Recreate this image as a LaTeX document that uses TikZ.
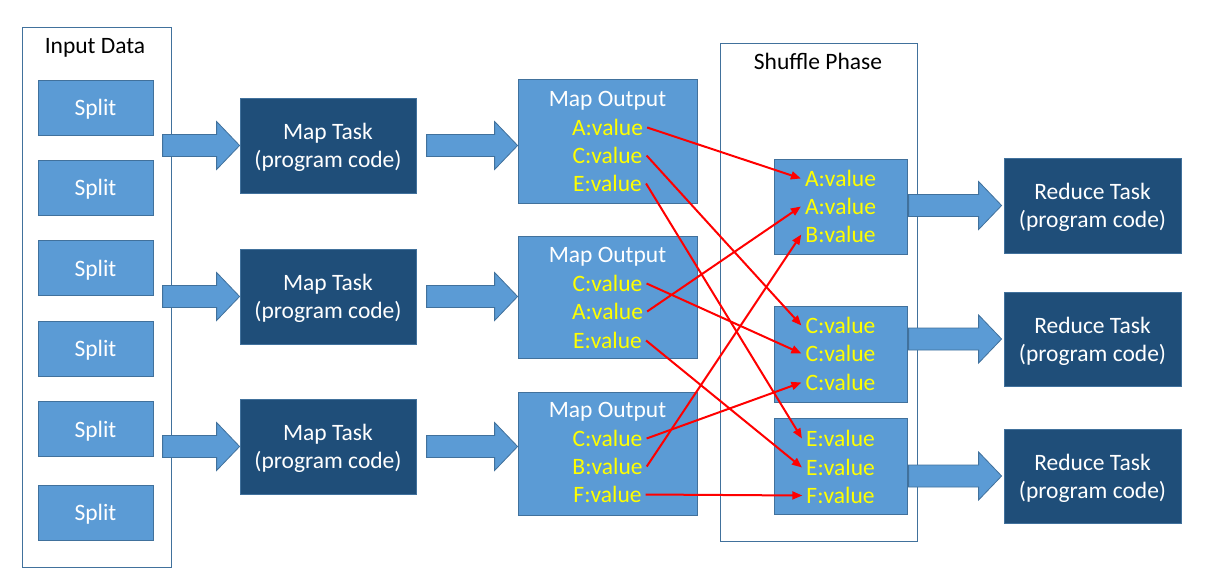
\documentclass[tikz,border=0pt]{standalone}
\usepackage{fontspec}
\setmainfont{Carlito}
\usetikzlibrary{calc,arrows.meta}
\definecolor{lb}{HTML}{5B9BD5}
\definecolor{lbd}{HTML}{41719C}
\definecolor{db}{HTML}{1F4E79}
\definecolor{ye}{HTML}{FFFF00}
\definecolor{rd}{HTML}{FF0000}
\newcommand\blockarr[2]{%
  \draw[barrow] ($(#1)+(-#2,-11)$) -- ($(#1)+(-23,-11)$) -- ($(#1)+(-23,-24)$) -- (#1)
    -- ($(#1)+(-23,24)$) -- ($(#1)+(-23,11)$) -- ($(#1)+(-#2,11)$) -- cycle;}
\begin{document}
\begin{tikzpicture}[x=1pt,y=-1pt,
  font=\fontsize{23.5}{28}\selectfont,
  container/.style={draw=lbd, line width=0.8pt, inner sep=0},
  ttl/.style={anchor=base, inner sep=0, text=black},
  splitbox/.style={draw=lbd, fill=lb, text=white, minimum width=115, minimum height=55, inner sep=0, line width=0.8pt, text depth=0pt},
  taskbox/.style={draw=lbd, fill=db, text=white, align=center, inner sep=0, line width=0.8pt, text depth=0pt},
  outbox/.style={draw=lbd, fill=lb, inner sep=0, line width=0.8pt},
  outtitle/.style={anchor=base, inner sep=0, text=white},
  val/.style={anchor=base, text=ye, inner xsep=4pt, inner ysep=0pt, text height=15pt, text depth=0pt},
  barrow/.style={draw=lbd, fill=lb, line width=0.8pt, line join=miter},
  redarrow/.style={draw=rd, line width=2pt, -{Triangle[length=10pt,width=8pt]}}
]
\fill[white] (0,0) rectangle (1210,584);
\useasboundingbox (0,0) rectangle (1210,584);

% Input data
\node[container, minimum width=149, minimum height=540] (inbox) at (96.5,297) {};
\node[ttl] (intitle) at (95,53) {Input Data};
\node[splitbox] (s1) at (95.5,107.5) {Split};
\node[splitbox] (s2) at (95.5,187.5) {Split};
\node[splitbox] (s3) at (95.5,268) {Split};
\node[splitbox] (s4) at (95.5,348.5) {Split};
\node[splitbox] (s5) at (95.5,429) {Split};
\node[splitbox] (s6) at (95.5,512.5) {Split};

% Map tasks
\node[taskbox, minimum width=176, minimum height=95] (mt1) at (328,145.5) {Map Task\\(program code)};
\node[taskbox, minimum width=176, minimum height=95] (mt2) at (328,296.5) {Map Task\\(program code)};
\node[taskbox, minimum width=176, minimum height=95] (mt3) at (328,446.5) {Map Task\\(program code)};

% Map outputs
\node[outbox, minimum width=179, minimum height=124] (mo1) at (607.5,141) {};
\node[outbox, minimum width=179, minimum height=122] (mo2) at (607.5,297) {};
\node[outbox, minimum width=179, minimum height=123] (mo3) at (607.5,453.5) {};
\node[outtitle] (mo1t) at (607.5,106) {Map Output};
\node[outtitle] (mo2t) at (607.5,262) {Map Output};
\node[outtitle] (mo3t) at (607.5,417) {Map Output};
\node[val] (mo1a) at (607.5,135) {A:value};
\node[val] (mo1c) at (607.5,163) {C:value};
\node[val] (mo1e) at (607.5,191) {E:value};
\node[val] (mo2c) at (607.5,291) {C:value};
\node[val] (mo2a) at (607.5,319) {A:value};
\node[val] (mo2e) at (607.5,348) {E:value};
\node[val] (mo3c) at (607.5,446) {C:value};
\node[val] (mo3b) at (607.5,474) {B:value};
\node[val] (mo3f) at (607.5,502) {F:value};

% Shuffle phase
\node[container, minimum width=197, minimum height=498] (shbox) at (818.5,292) {};
\node[ttl] (shtitle) at (818,69) {Shuffle Phase};
\node[outbox, minimum width=133, minimum height=95] (sb1) at (840.5,206.5) {};
\node[outbox, minimum width=133, minimum height=96] (sb2) at (840.5,354) {};
\node[outbox, minimum width=133, minimum height=96] (sb3) at (840.5,466.5) {};
\node[val] (s1a1) at (840.5,186) {A:value};
\node[val] (s1a2) at (840.5,214) {A:value};
\node[val] (s1b) at (840.5,242) {B:value};
\node[val] (s2c1) at (840.5,333) {C:value};
\node[val] (s2c2) at (840.5,361) {C:value};
\node[val] (s2c3) at (840.5,390) {C:value};
\node[val] (s3e1) at (840.5,446) {E:value};
\node[val] (s3e2) at (840.5,475) {E:value};
\node[val] (s3f) at (840.5,503) {F:value};

% Reduce tasks
\node[taskbox, minimum width=177, minimum height=95] (rt1) at (1092.5,205.5) {Reduce Task\\(program code)};
\node[taskbox, minimum width=177, minimum height=94] (rt2) at (1092.5,339) {Reduce Task\\(program code)};
\node[taskbox, minimum width=177, minimum height=94] (rt3) at (1092.5,476) {Reduce Task\\(program code)};

% Block arrows
\blockarr{mt1.west}{77}
\blockarr{mt2.west}{77}
\blockarr{mt3.west}{77}
\coordinate (t1) at (mo1.west |- mt1.west);
\coordinate (t2) at (mo2.west |- mt2.west);
\coordinate (t3) at (mo3.west |- mt3.west);
\blockarr{t1}{91}
\blockarr{t2}{91}
\blockarr{t3}{91}
\coordinate (r1) at ($(rt1.west)+(-2,0)$);
\coordinate (r2) at ($(rt2.west)+(-2,0)$);
\coordinate (r3) at ($(rt3.west)+(-2,0)$);
\blockarr{r1}{93}
\blockarr{r2}{93}
\blockarr{r3}{93}

% Shuffle connectors
\draw[redarrow] (mo1a.east) -- (s1a1.west);
\draw[redarrow] (mo1c.east) -- (s2c1.west);
\draw[redarrow] (mo1e.east) -- (s3e1.west);
\draw[redarrow] (mo2c.east) -- (s2c2.west);
\draw[redarrow] (mo2a.east) -- (s1a2.west);
\draw[redarrow] (mo2e.east) -- (s3e2.west);
\draw[redarrow] (mo3c.east) -- (s2c3.west);
\draw[redarrow] (mo3b.east) -- (s1b.west);
\draw[redarrow] (mo3f.east) -- (s3f.west);
\end{tikzpicture}
\end{document}
